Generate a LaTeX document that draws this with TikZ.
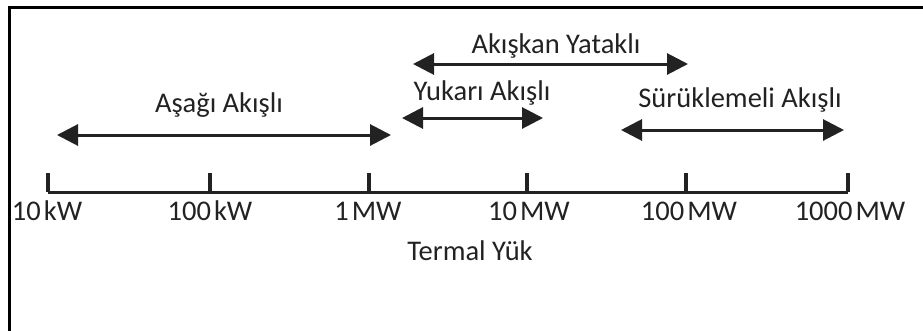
\documentclass[tikz,border=0pt]{standalone}
\usepackage{fontspec}
\setmainfont{Carlito}
\usetikzlibrary{arrows.meta}
\definecolor{scaleink}{HTML}{222222}
\newcommand{\unitgap}{\hspace{3pt}}

\begin{document}
\begin{tikzpicture}[x=1pt,y=-1pt,
  scaleline/.style={draw=scaleink,line width=3pt},
  scaletick/.style={draw=scaleink,line width=3.5pt},
  rangearrow/.style={draw=scaleink,line width=3pt,
    {Triangle[length=21pt,width=21pt]}-{Triangle[length=21pt,width=21pt]}},
  scalelabel/.style={font=\fontsize{28.5}{32}\selectfont,text=scaleink,
    inner sep=0pt,anchor=base},
  framestroke/.style={draw=black,line width=3pt}
]
  \useasboundingbox (0,0) rectangle (923,330);
  % frame, cut on the right and bottom
  \coordinate (framebl) at (9,331);
  \coordinate (frametl) at (9,7);
  \coordinate (frametr) at (924,7);
  \draw[framestroke] (framebl) -- (frametl) -- (frametr);

  % axis
  \coordinate (tenkw) at (48,192);
  \coordinate (hundredkw) at (210,192);
  \coordinate (onemw) at (369,192);
  \coordinate (tenmw) at (527,192);
  \coordinate (hundredmw) at (686,192);
  \coordinate (thousandmw) at (848,192);
  \draw[scaleline] (tenkw) -- (thousandmw);
  \draw[scaletick] (tenkw) -- ++(0,-19);
  \draw[scaletick] (hundredkw) -- ++(0,-19);
  \draw[scaletick] (onemw) -- ++(0,-19);
  \draw[scaletick] (tenmw) -- ++(0,-19);
  \draw[scaletick] (hundredmw) -- ++(0,-19);
  \draw[scaletick] (thousandmw) -- ++(0,-19);
  \node[scalelabel] (tenkwlbl) at (47,220) {10\unitgap kW};
  \node[scalelabel] (hundredkwlbl) at (210,220) {100\unitgap kW};
  \node[scalelabel] (onemwlbl) at (368,220) {1\unitgap MW};
  \node[scalelabel] (tenmwlbl) at (529,220) {10\unitgap MW};
  \node[scalelabel] (hundredmwlbl) at (689,220) {100\unitgap MW};
  \node[scalelabel] (thousandmwlbl) at (850,220) {1000\unitgap MW};
  \node[scalelabel] (axistitle) at (470,260) {Termal Yük};

  % ranges
  \coordinate (downl) at (57,135);
  \coordinate (downr) at (391,135);
  \draw[rangearrow] (downl) -- (downr);
  \node[scalelabel] (downlbl) at (219,112) {Aşağı Akışlı};

  \coordinate (fluidl) at (413,64);
  \coordinate (fluidr) at (688,64);
  \draw[rangearrow] (fluidl) -- (fluidr);
  \node[scalelabel] (fluidlbl) at (556,53) {Akışkan Yataklı};

  \coordinate (upl) at (402,118);
  \coordinate (upr) at (543,118);
  \draw[rangearrow] (upl) -- (upr);
  \node[scalelabel] (uplbl) at (482,100) {Yukarı Akışlı};

  \coordinate (entl) at (621,130);
  \coordinate (entr) at (844,130);
  \draw[rangearrow] (entl) -- (entr);
  \node[scalelabel] (entlbl) at (740,107) {Sürüklemeli Akışlı};
\end{tikzpicture}
\end{document}
